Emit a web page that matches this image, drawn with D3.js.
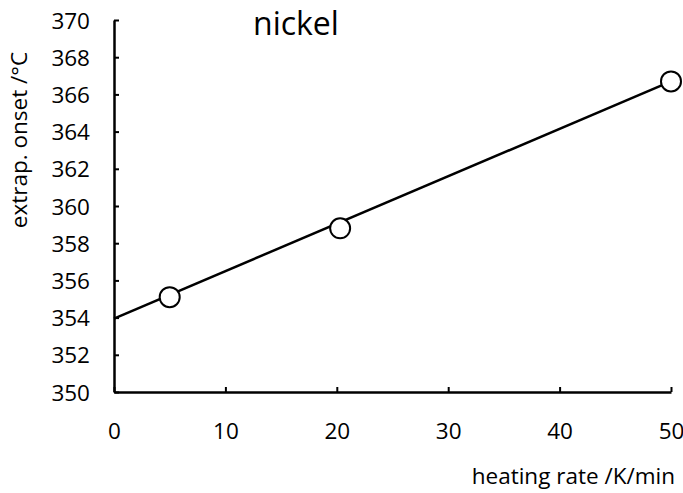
<!DOCTYPE html>
<html><head><meta charset="utf-8">
<script src="https://cdn.jsdelivr.net/npm/d3@7"></script>
<style>body{margin:0;background:#fff}svg{display:block}text{font-family:"Open Sans",sans-serif;fill:#000}</style>
</head><body><svg id="c" width="683" height="493"></svg>
<script>
const heatingRate = [5, 20.3, 50];
const onsetTemp = [355.1, 358.8, 366.7];
const fitX = [0, 50];
const fitY = [353.95, 366.7];
const xTicks = [0, 10, 20, 30, 40, 50];
const yTicks = [350, 352, 354, 356, 358, 360, 362, 364, 366, 368, 370];
const titleText = "nickel";
const xLabel = "heating rate /K/min";
const yLabel = "extrap. onset /°C";

const svg = d3.select("#c");
const x = d3.scaleLinear().domain([0, 50]).range([114, 671]);
const y = d3.scaleLinear().domain([350, 370]).range([392, 20]);

const xAxis = svg.append("g").attr("transform", `translate(0,${y(350)})`)
  .call(d3.axisBottom(x).tickValues(xTicks).tickSizeInner(-5).tickSizeOuter(0).tickPadding(31).tickFormat(d3.format("d")));
const yAxis = svg.append("g").attr("transform", `translate(${x(0)},0)`)
  .call(d3.axisLeft(y).tickValues(yTicks).tickSizeInner(-5).tickSizeOuter(0).tickPadding(24).tickFormat(d3.format("d")));
[xAxis, yAxis].forEach(a => {
  a.select(".domain").attr("stroke", "#000").attr("stroke-width", 2.5);
  a.selectAll(".tick line").attr("stroke", "#000").attr("stroke-width", 2);
  a.selectAll(".tick text").attr("font-size", 22.5).attr("font-family", '"Open Sans",sans-serif').attr("fill", "#000");
});
yAxis.selectAll(".tick text").attr("dy", "0.36em");
xAxis.selectAll(".tick text").attr("dy", "0.71em");

svg.append("path")
  .datum(fitX.map((d, i) => [d, fitY[i]]))
  .attr("d", d3.line().x(d => x(d[0])).y(d => y(d[1])))
  .attr("fill", "none").attr("stroke", "#000").attr("stroke-width", 2.5);

svg.selectAll("circle.pt").data(heatingRate.map((d, i) => [d, onsetTemp[i]]))
  .join("circle").attr("class", "pt")
  .attr("cx", d => x(d[0])).attr("cy", d => y(d[1])).attr("r", 10)
  .attr("fill", "#fff").attr("stroke", "#000").attr("stroke-width", 2);

svg.append("text").attr("x", 253).attr("y", 35).attr("font-size", 32).text(titleText);
svg.append("text").attr("x", 675).attr("y", 484).attr("text-anchor", "end").attr("font-size", 22.5).text(xLabel);
svg.append("text").attr("transform", "translate(27,140) rotate(-90)").attr("text-anchor", "middle").attr("font-size", 22.5).text(yLabel);
</script></body></html>
